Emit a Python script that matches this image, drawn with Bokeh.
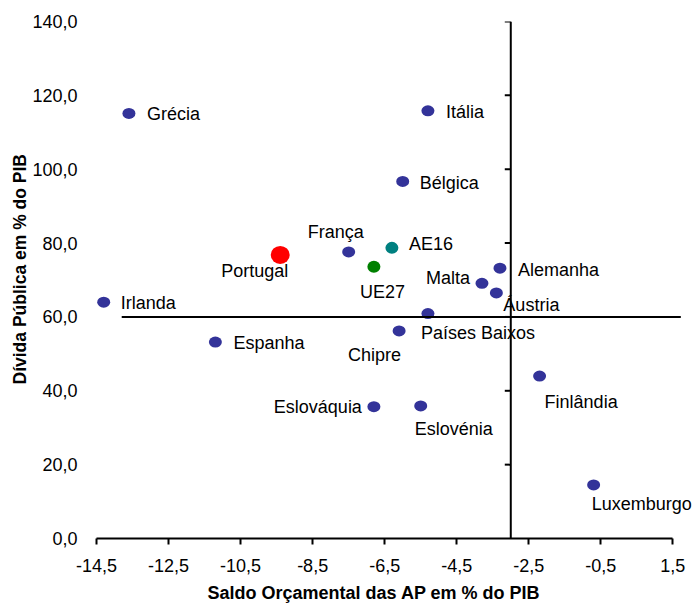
from bokeh.plotting import figure
from bokeh.models import ColumnDataSource, FixedTicker, Title, Range1d
from bokeh.embed import file_html
from bokeh.resources import INLINE
from bokeh.core.properties import value
import math

# Euro-area members: budget balance and public debt (% of GDP)
countries = ["Grécia", "Itália", "Bélgica", "França", "Irlanda", "Espanha", "Malta",
             "Alemanha", "Áustria", "Países Baixos", "Chipre", "Eslováquia",
             "Eslovénia", "Finlândia", "Luxemburgo"]
balance = [-13.6, -5.3, -6.0, -7.5, -14.3, -11.2, -3.8, -3.3, -3.4, -5.3, -6.1,
           -6.8, -5.5, -2.2, -0.7]
debt = [115.1, 115.8, 96.7, 77.6, 64.0, 53.2, 69.1, 73.2, 66.5, 60.9, 56.2,
        35.7, 35.9, 44.0, 14.5]

# Highlighted points
portugal_balance = [-9.4]
portugal_debt = [76.8]
ae16_balance = [-6.3]
ae16_debt = [78.7]
ue27_balance = [-6.8]
ue27_debt = [73.6]

# Maastricht reference values
debt_limit = 60
deficit_limit = -3

x_ticks = [-14.5, -12.5, -10.5, -8.5, -6.5, -4.5, -2.5, -0.5, 1.5]
x_tick_labels = ["-14,5", "-12,5", "-10,5", "-8,5", "-6,5", "-4,5", "-2,5", "-0,5", "1,5"]
y_ticks = [0, 20, 40, 60, 80, 100, 120, 140]
y_tick_labels = ["0,0", "20,0", "40,0", "60,0", "80,0", "100,0", "120,0", "140,0"]

# Label placement around each point: (dx px, dy px, align)
placement = {
    "Grécia": (18, 1, "left"),
    "Itália": (18, 1, "left"),
    "Bélgica": (17, 2, "left"),
    "França": (-13, -20, "center"),
    "Irlanda": (17, 1, "left"),
    "Espanha": (18, 1, "left"),
    "Malta": (-12, -5, "right"),
    "Alemanha": (18, 2, "left"),
    "Áustria": (7, 12, "left"),
    "Países Baixos": (-7, 19, "left"),
    "Chipre": (2, 24, "right"),
    "Eslováquia": (-12, 0, "right"),
    "Eslovénia": (-6, 23, "left"),
    "Finlândia": (5, 26, "left"),
    "Luxemburgo": (-2, 19, "left"),
    "Portugal": (8, 16, "right"),
    "AE16": (17, -4, "left"),
    "UE27": (-14, 25, "left"),
}

FONT = "Liberation Sans"

p = figure(width=697, height=608, output_backend="svg", toolbar_location=None,
           x_range=Range1d(-14.5, 2.1), y_range=Range1d(0, 140),
           min_border_left=96, min_border_right=3, min_border_top=21,
           min_border_bottom=69)
p.outline_line_color = None
p.xgrid.visible = False
p.ygrid.visible = False
p.background_fill_color = "white"
p.border_fill_color = "white"

# x axis
xa = p.xaxis[0]
xa.ticker = FixedTicker(ticks=x_ticks)
xa.major_label_overrides = {t: l for t, l in zip(x_ticks, x_tick_labels)}
xa.bounds = (x_ticks[0], x_ticks[-1])
xa.axis_line_width = 2
xa.axis_line_color = "black"
xa.major_tick_line_width = 2
xa.major_tick_out = 6
xa.major_tick_in = 0
xa.minor_tick_line_color = None
xa.major_label_standoff = 14
xa.major_label_text_font = FONT
xa.major_label_text_font_size = "18px"
xa.major_label_text_color = "black"

# y axis: labels only, the axis line is drawn at the deficit limit
ya = p.yaxis[0]
ya.ticker = FixedTicker(ticks=y_ticks)
ya.major_label_overrides = {t: l for t, l in zip(y_ticks, y_tick_labels)}
ya.axis_line_color = None
ya.major_tick_line_color = None
ya.minor_tick_line_color = None
ya.major_tick_out = 0
ya.major_tick_in = 0
ya.major_label_standoff = 19
ya.major_label_text_font = FONT
ya.major_label_text_font_size = "18px"
ya.major_label_text_color = "black"

# axis titles
p.add_layout(Title(text="Saldo Orçamental das AP em % do PIB", align="left", offset=111,
                   standoff=12, text_font=FONT, text_font_size="18px",
                   text_font_style="bold", text_color="black"), "below")
p.add_layout(Title(text="Dívida Pública em % do PIB", align="left", offset=154,
                   standoff=0, text_font=FONT, text_font_size="17.5px",
                   text_font_style="bold", text_color="black"), "left")

BLUE = "#333399"

src = ColumnDataSource(dict(x=balance, y=debt, name=countries))
p.ellipse(x="x", y="y", width=13, height=11, width_units="screen", height_units="screen",
          source=src, fill_color=BLUE, line_color=None)
p.ellipse(x=ae16_balance, y=ae16_debt, width=13, height=12, width_units="screen",
          height_units="screen", fill_color="#008080", line_color=None)
p.ellipse(x=ue27_balance, y=ue27_debt, width=13, height=12, width_units="screen",
          height_units="screen", fill_color="#008000", line_color=None)
p.ellipse(x=portugal_balance, y=portugal_debt, width=19, height=18, width_units="screen",
          height_units="screen", fill_color="#ff0000", line_color=None)

# point labels
names = countries + ["Portugal", "AE16", "UE27"]
xs = balance + portugal_balance + ae16_balance + ue27_balance
ys = debt + portugal_debt + ae16_debt + ue27_debt
lab = ColumnDataSource(dict(
    x=xs, y=ys, text=names,
    dx=[placement[n][0] for n in names],
    dy=[placement[n][1] for n in names],
    align=[placement[n][2] for n in names],
))
p.text(x="x", y="y", text="text", x_offset="dx", y_offset="dy", text_align="align",
       text_baseline="middle", source=lab, text_font=value(FONT),
       text_font_size="18px", text_color="black")

# reference lines, drawn over the points
p.segment(x0=[-13.8], y0=[debt_limit], x1=[1.72], y1=[debt_limit],
          line_color="black", line_width=2)
p.segment(x0=[deficit_limit], y0=[y_ticks[0]], x1=[deficit_limit], y1=[y_ticks[-1]],
          line_color="black", line_width=2)
p.ray(x=[deficit_limit] * (len(y_ticks) - 1), y=y_ticks[1:], length=6,
      length_units="screen", angle=math.pi, line_color="black", line_width=2)

open("out.html", "w").write(file_html(p, INLINE))
